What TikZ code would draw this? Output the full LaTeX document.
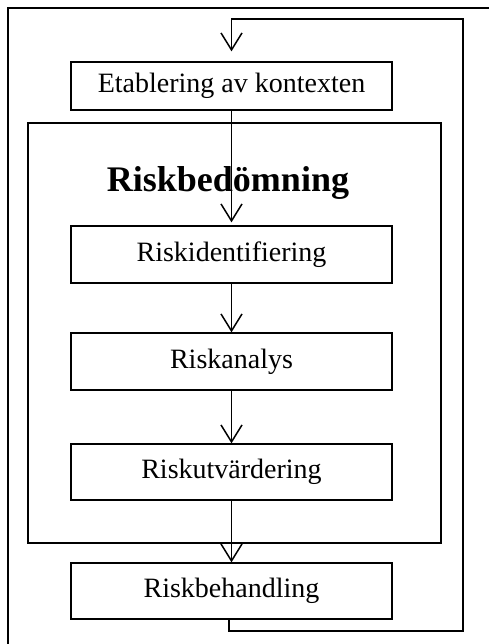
\documentclass[tikz,border=0pt]{standalone}
\usepackage{fontspec}
\setmainfont{Liberation Serif}
\usetikzlibrary{arrows.meta}
\begin{document}
\begin{tikzpicture}[x=1pt,y=-1pt,
  stepbox/.style={draw,line width=1.3pt,minimum width=321pt,inner sep=0pt,font=\fontsize{28}{31}\selectfont},
  flow/.style={line width=1.5pt,-{Straight Barb[length=17pt,width=21pt,line width=1.5pt]}},
  frame/.style={line width=2.2pt}]
\useasboundingbox (0,0) rectangle (488,644);

% outer frame, running off the page to the right and bottom
\coordinate (oBL) at (8,646);
\coordinate (oTL) at (8,8);
\coordinate (oTR) at (490,8);
\draw[frame,line cap=rect] (oBL) -- (oTL) -- (oTR);

% assessment group
\draw[line width=2pt] (28,123) rectangle (441,543);
\node[font=\bfseries\fontsize{36}{40}\selectfont,anchor=base] (title) at (228,192) {Riskbedömning};

% process steps
\node[stepbox,minimum height=48pt] (etab) at (231.5,86) {Etablering av kontexten};
\node[stepbox,minimum height=57pt] (ident) at (231.5,254.5) {Riskidentifiering};
\node[stepbox,minimum height=57pt] (anal) at (231.5,361.5) {Riskanalys};
\node[stepbox,minimum height=56pt] (utv) at (231.5,472) {Riskutvärdering};
\node[stepbox,minimum height=56pt] (behand) at (231.5,591) {Riskbehandling};

% flow between steps
\draw[flow,shorten >=3pt] (etab.south) -- (ident.north);
\draw[flow] (ident.south) -- (anal.north);
\draw[flow] (anal.south) -- (utv.north);
\draw[flow] (utv.south) -- (behand.north);

% feedback loop back to the start
\coordinate (loopA) at (463,631);
\coordinate (loopB) at (463,19);
\draw[flow,line width=1.8pt,shorten >=10pt] ([xshift=-2.5pt]behand.south) |- (loopA) -- (loopB) -| (etab.north);
\end{tikzpicture}
\end{document}
